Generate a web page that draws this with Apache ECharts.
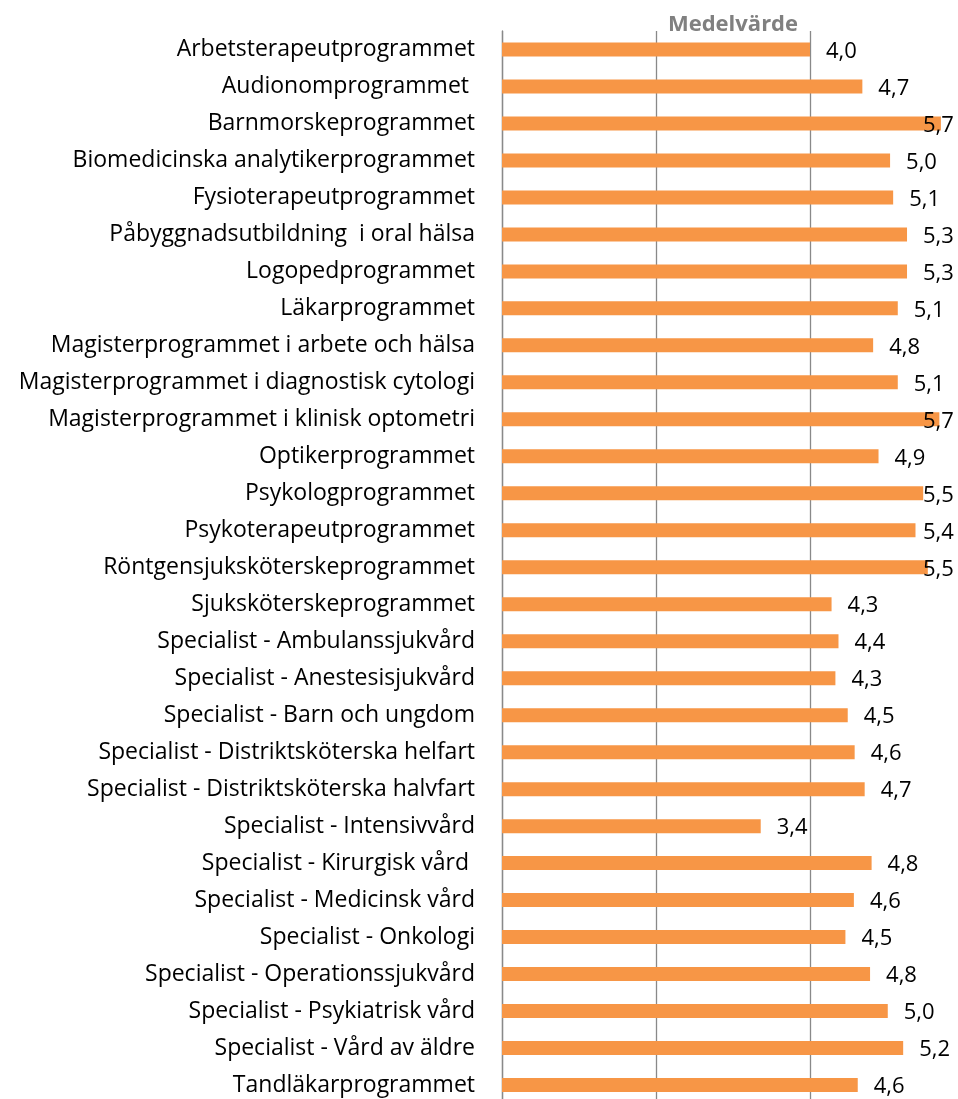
<!DOCTYPE html>
<html>
<head>
<meta charset="utf-8">
<title>Medelvärde</title>
<script src="https://cdn.jsdelivr.net/npm/echarts@6.0.0/dist/echarts.min.js"></script>
<style>
  html, body { margin: 0; padding: 0; background: #fff; }
  #chart { width: 958px; height: 1099px; }
</style>
</head>
<body>
<div id="chart"></div>
<script>
// program names (top to bottom)
const programs = [
  "Arbetsterapeutprogrammet",
  "Audionomprogrammet ",
  "Barnmorskeprogrammet",
  "Biomedicinska analytikerprogrammet",
  "Fysioterapeutprogrammet",
  "Påbyggnadsutbildning  i oral hälsa",
  "Logopedprogrammet",
  "Läkarprogrammet",
  "Magisterprogrammet i arbete och hälsa",
  "Magisterprogrammet i diagnostisk cytologi",
  "Magisterprogrammet i klinisk optometri",
  "Optikerprogrammet",
  "Psykologprogrammet",
  "Psykoterapeutprogrammet",
  "Röntgensjuksköterskeprogrammet",
  "Sjuksköterskeprogrammet",
  "Specialist - Ambulanssjukvård",
  "Specialist - Anestesisjukvård",
  "Specialist - Barn och ungdom",
  "Specialist - Distriktsköterska helfart",
  "Specialist - Distriktsköterska halvfart",
  "Specialist - Intensivvård",
  "Specialist - Kirurgisk vård ",
  "Specialist - Medicinsk vård",
  "Specialist - Onkologi",
  "Specialist - Operationssjukvård",
  "Specialist - Psykiatrisk vård",
  "Specialist - Vård av äldre",
  "Tandläkarprogrammet"
];

// mean values
const meanValues = [
  4.00, 4.68, 5.70, 5.04, 5.08, 5.26, 5.26, 5.14, 4.82, 5.14,
  5.68, 4.89, 5.47, 5.37, 5.53, 4.28, 4.37, 4.33, 4.49, 4.58,
  4.71, 3.36, 4.80, 4.57, 4.46, 4.78, 5.01, 5.21, 4.62
];

const xTicks = [0, 2, 4, 6];

const FONT = "'Open Sans', 'Liberation Sans', sans-serif";

const chart = echarts.init(document.getElementById("chart"));

const option = {
  animation: false,
  title: {
    text: "Medelvärde",
    left: 728,
    top: 9,
    textAlign: "center",
    textStyle: { color: "#808080", fontFamily: FONT, fontWeight: "bold", fontSize: 22 }
  },
  // plot runs past the right edge (x max = 6 is cut off in the original)
  grid: { left: 502, top: 31, width: 462, height: 1072.5, outerBoundsMode: "none" },
  xAxis: {
    type: "value",
    min: xTicks[0],
    max: xTicks[xTicks.length - 1],
    interval: xTicks[1] - xTicks[0],
    axisLine: { show: false },
    axisTick: { show: false },
    axisLabel: { show: false },
    splitLine: { lineStyle: { color: "#898989", width: 1.3 } }
  },
  yAxis: {
    type: "category",
    inverse: true,
    data: programs,
    axisLine: { lineStyle: { color: "#898989", width: 1.3 } },
    axisTick: { length: 6, lineStyle: { color: "#898989", width: 1.3 } },
    axisLabel: { color: "#000", fontFamily: FONT, fontSize: 23, margin: 27 }
  },
  series: [{
    type: "bar",
    data: meanValues,
    barWidth: 14,
    itemStyle: { color: "#F79646" },
    label: {
      show: true,
      position: "right",
      distance: 16,
      color: "#000",
      fontFamily: FONT,
      fontSize: 22,
      formatter: p => p.value.toFixed(1).replace(".", ",")
    },
    // keep labels inside the picture, like Excel does
    labelLayout: p => {
      const limit = chart.getWidth() - 35;
      return { dx: Math.min(0, limit - p.labelRect.x), dy: 2 };
    }
  }]
};

chart.setOption(option);
</script>
</body>
</html>
